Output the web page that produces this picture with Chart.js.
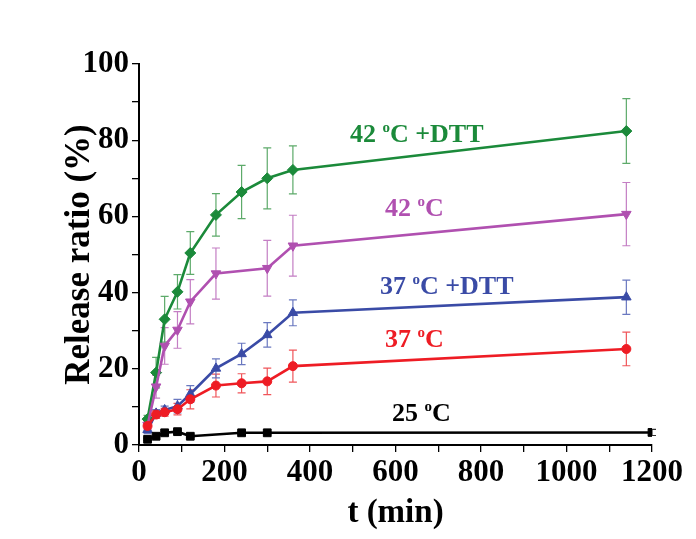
<!DOCTYPE html>
<html><head><meta charset="utf-8">
<script src="https://cdn.jsdelivr.net/npm/chart.js@4"></script>
<style>html,body{margin:0;padding:0;background:#fff}#wrap{width:696px;height:539px;position:relative}</style>
</head><body><div id="wrap"><canvas id="c" width="696" height="539"></canvas></div>
<script>
// ---- data ----
const timesMain = [20, 40, 60, 90, 120, 180, 240, 300, 360, 1140];
const times25 = [20, 40, 60, 90, 120, 240, 300, 1200];
const times42 = [20, 40, 60, 90, 120, 180, 300, 360, 1140];

const val25 = [1.5, 2.3, 3.2, 3.5, 2.3, 3.2, 3.2, 3.3];
const err25 = [0.3, 0.3, 0.4, 0.4, 0.3, 0.4, 0.3, 0.8];

const val37 = [5.0, 8.0, 8.6, 9.4, 12.0, 15.6, 16.2, 16.7, 20.7, 25.2];
const err37 = [1.0, 1.0, 1.0, 1.5, 2.5, 3.0, 2.5, 3.5, 4.2, 4.4];

const val37DTT = [4.0, 8.3, 9.2, 10.2, 13.4, 20.1, 23.9, 28.9, 34.7, 38.8];
const err37DTT = [1.0, 1.0, 1.0, 1.8, 2.2, 2.5, 2.8, 3.2, 3.4, 4.5];

const val42 = [5.2, 15.3, 26.0, 30.2, 37.6, 45.0, 46.4, 52.3, 60.6];
const err42 = [1.0, 3.0, 4.8, 4.8, 5.8, 6.7, 7.3, 8.0, 8.3];

const val42DTT = [6.8, 19.0, 33.0, 40.2, 50.4, 60.4, 66.4, 70.0, 72.2, 82.4];
const err42DTT = [1.0, 4.0, 6.0, 4.5, 5.6, 5.6, 7.0, 8.0, 6.3, 8.5];

const seriesNames = ['25 °C', '37 °C', '37 °C +DTT', '42 °C', '42 °C +DTT'];
const xTickLabels = [0, 200, 400, 600, 800, 1000, 1200];
const yTickLabels = [0, 20, 40, 60, 80, 100];

function pts(t, v, e) { return t.map((x, i) => ({x: x, y: v[i], e: e[i]})); }

// ---- styles ----
const serif = '"Liberation Serif", "Times New Roman", serif';
const styles = [
  {color: '#000000', err: '#333333', shape: 'rect', r: 5.5, rot: 0},
  {color: '#EE1C24', err: '#F0555A', shape: 'circle', r: 4.5, rot: 0},
  {color: '#3A4BA6', err: '#6A78C0', shape: 'triangle', r: 5.5, rot: 0},
  {color: '#B050B0', err: '#C47EC4', shape: 'triangle', r: 5.5, rot: 180},
  {color: '#1B8A3A', err: '#5DAA6A', shape: 'rectRot', r: 5.5, rot: 0}
];
const dataSets = [
  pts(times25, val25, err25),
  pts(timesMain, val37, err37),
  pts(timesMain, val37DTT, err37DTT),
  pts(times42, val42, err42),
  pts(timesMain, val42DTT, err42DTT)
];

// label placement (pixels) for the in-plot annotations
const labelPos = [
  {x: 392, y: 421, pre: '25 ', post: 'C'},
  {x: 385, y: 347, pre: '37 ', post: 'C'},
  {x: 380, y: 294, pre: '37 ', post: 'C +DTT'},
  {x: 385, y: 216, pre: '42 ', post: 'C'},
  {x: 350, y: 142, pre: '42 ', post: 'C +DTT'}
];

const errPlugin = {
  id: 'errbars',
  beforeDatasetsDraw(chart) {
    const {ctx, scales: {x, y}} = chart;
    chart.data.datasets.forEach((ds) => {
      ctx.save();
      ctx.strokeStyle = ds.errColor;
      ctx.lineWidth = 1.2;
      ds.data.forEach(p => {
        const px = x.getPixelForValue(p.x);
        const top = y.getPixelForValue(p.y + p.e);
        const bot = y.getPixelForValue(p.y - p.e);
        ctx.beginPath();
        ctx.moveTo(px, top); ctx.lineTo(px, bot);
        ctx.moveTo(px - 4, top); ctx.lineTo(px + 4, top);
        ctx.moveTo(px - 4, bot); ctx.lineTo(px + 4, bot);
        ctx.stroke();
      });
      ctx.restore();
    });
  }
};

const labelPlugin = {
  id: 'labels',
  afterDraw(chart) {
    const ctx = chart.ctx;
    ctx.save();
    ctx.textBaseline = 'alphabetic';
    ctx.textAlign = 'left';
    labelPos.forEach((lp, i) => {
      ctx.fillStyle = styles[i].color;
      ctx.font = 'bold 26px ' + serif;
      ctx.fillText(lp.pre, lp.x, lp.y);
      let cx = lp.x + ctx.measureText(lp.pre).width;
      ctx.font = 'bold 15px ' + serif;
      ctx.fillText('o', cx, lp.y - 10);
      cx += ctx.measureText('o').width;
      ctx.font = 'bold 26px ' + serif;
      ctx.fillText(lp.post, cx, lp.y);
    });
    ctx.restore();
  }
};

new Chart(document.getElementById('c'), {
  type: 'line',
  data: {
    datasets: dataSets.map((d, i) => ({
      label: seriesNames[i],
      data: d,
      borderColor: styles[i].color,
      backgroundColor: styles[i].color,
      pointBackgroundColor: styles[i].color,
      pointBorderColor: styles[i].color,
      pointStyle: styles[i].shape,
      pointRotation: styles[i].rot,
      pointRadius: styles[i].r,
      pointBorderWidth: 1,
      borderWidth: 2.6,
      tension: 0,
      errColor: styles[i].err
    }))
  },
  options: {
    responsive: false,
    animation: false,
    layout: {padding: {left: 52, top: 64, right: 44, bottom: 0}},
    plugins: {legend: {display: false}, tooltip: {enabled: false}},
    scales: {
      x: {
        type: 'linear', min: 0, max: 1200,
        afterFit(s) { s.height = 94; },
        ticks: {stepSize: 100, color: '#000', padding: 2, maxRotation: 0, autoSkip: false,
          font: {family: serif, size: 31, weight: 'bold'},
          callback: v => xTickLabels.includes(v) ? String(v) : ''},
        grid: {display: true, drawOnChartArea: false, drawTicks: true, tickLength: 7, color: '#000', lineWidth: 1.3},
        border: {display: true, color: '#000', width: 2},
        title: {display: true, text: 't (min)', color: '#000', padding: {top: 0, bottom: 6},
          font: {family: serif, size: 33, weight: 'bold'}}
      },
      y: {
        type: 'linear', min: 0, max: 100,
        afterFit(s) { s.width = 87; },
        ticks: {stepSize: 10, color: '#000', padding: 3, autoSkip: false,
          font: {family: serif, size: 31, weight: 'bold'},
          callback: v => yTickLabels.includes(v) ? String(v) : ''},
        grid: {display: true, drawOnChartArea: false, drawTicks: true, tickLength: 7, color: '#000', lineWidth: 1.3},
        border: {display: true, color: '#000', width: 2},
        title: {display: true, text: 'Release ratio (%)', color: '#000', padding: {top: 7, bottom: 0},
          font: {family: serif, size: 35, weight: 'bold'}}
      }
    }
  },
  plugins: [errPlugin, labelPlugin]
});
</script>
</body></html>
